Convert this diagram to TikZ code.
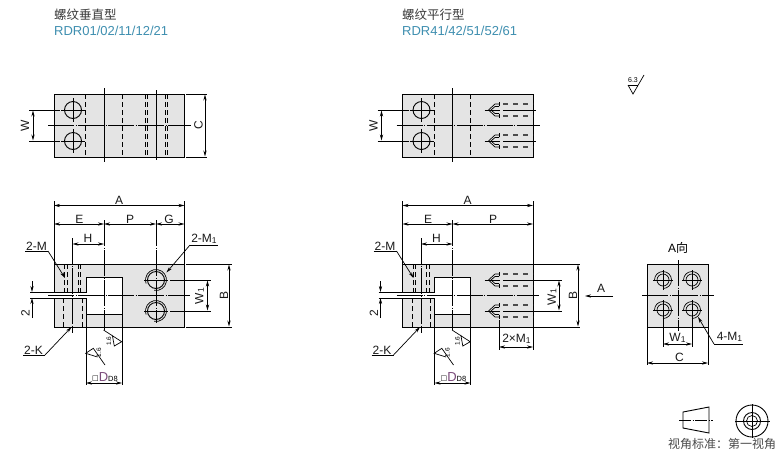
\documentclass[tikz,border=0pt]{standalone}
\usepackage{fontspec}
\setmainfont{Liberation Sans}
\newfontfamily\cjk{Noto Sans CJK SC}
\newfontfamily\djfont{DejaVu Sans}
\usetikzlibrary{arrows.meta}
\definecolor{partgray}{HTML}{E4E4E4}
\definecolor{titleblue}{HTML}{3F8FB0}
\definecolor{titlegray}{HTML}{3A3A3A}
\definecolor{dpurple}{HTML}{7A4A7A}
\tikzset{
  lbl/.style={inner sep=0pt,font=\fontsize{12}{13}\selectfont,text=black!90},
  titlecn/.style={inner sep=0pt,anchor=west,text=titlegray,font=\cjk\fontsize{12.5}{14}\selectfont},
  titlelat/.style={inner sep=0pt,anchor=west,text=titleblue,font=\fontsize{13}{14}\selectfont},
  outline/.style={draw=black,line width=0.9pt},
  thin line/.style={draw=black,line width=0.7pt},
  cline/.style={draw=black,line width=0.7pt,dash pattern=on 26pt off 1.5pt on 1pt off 1.5pt},
  hid/.style={draw=black,line width=0.7pt,dash pattern=on 5pt off 3pt},
  thrd/.style={draw=black!70,line width=2pt,dash pattern=on 5pt off 5pt},
  dim/.style={draw=black,line width=0.7pt,{Stealth[length=6pt,width=3.2pt]}-{Stealth[length=6pt,width=3.2pt]}},
  lead/.style={draw=black,line width=0.7pt,-{Stealth[length=6pt,width=3.2pt]}},
}
\newcommand{\lsub}[1]{\raisebox{-0.5pt}{\fontsize{8.5}{9}\selectfont #1}}
% horizontal threaded hole, blind, seen from the side, centred on y=#1
\newcommand{\threadh}[1]{%
  \draw[thin line] (499.5,#1-6) -- (495,#1-6) -- (488.5,#1) -- (495,#1+6) -- (499.5,#1+6);
  \draw[thin line] (499.5,#1-8) -- (499.5,#1-4) (499.5,#1+4) -- (499.5,#1+8);
  \draw[thin line] (499,#1-3.5) -- (495,#1-3.5) -- (491,#1) -- (495,#1+3.5) -- (499,#1+3.5);
  \draw[thrd] (503,#1-6.3) -- (533,#1-6.3);
  \draw[thrd] (503,#1+6.3) -- (533,#1+6.3);
  \draw[thin line] (484.5,#1) -- (500,#1) (503,#1) -- (536,#1);
}
% top view common part, x offset through scope
\newcommand{\topview}{%
  \fill[partgray] (54,94) rectangle (184.5,157);
  \draw[outline] (54,94) rectangle (184.5,157);
  \draw[outline] (73,110) circle (8.5) (73,141) circle (8.5);
  \draw[thin line] (73,98) -- (73,122) (73,129) -- (73,153);
  \draw[thin line] (61,110) -- (85,110) (61,141) -- (85,141);
  \draw[hid] (85.5,94) -- (85.5,157) (122,94) -- (122,157);
  \draw[outline] (104,88) -- (104,162);
  \draw[cline] (48,125) -- (191,125);
  \draw[thin line] (29,110) -- (60,110) (29,141) -- (60,141);
  \draw[dim] (33,110.5) -- (33,140.5);
  \node[lbl,rotate=90] at (25,125.5) {W};
}
% front view common part
\newcommand{\frontview}{%
  \draw[outline,fill=partgray] (54,292) -- (54,264) -- (184.5,264) -- (184.5,327) -- (54,327) -- (54,298) -- (86,298) -- (86,314) -- (122,314) -- (122,277) -- (86,277) -- (86,292) -- cycle;
  \draw[hid] (64.5,264) -- (64.5,292) (67,264) -- (67,292) (78,264) -- (78,292) (80.5,264) -- (80.5,292);
  \draw[hid] (63.5,298) -- (63.5,327) (82,298) -- (82,327);
  \draw[cline] (72.5,238) -- (72.5,333);
  \draw[cline] (104,220) -- (104,330);
  \draw[cline] (48,295) -- (190,295);
  % extension lines and dimensions
  \draw[thin line] (54,201) -- (54,264) (184.5,201) -- (184.5,264);
  \draw[dim] (54,205.5) -- (184.5,205.5);
  \draw[dim] (54,224) -- (104,224);
  \draw[dim] (72.5,244) -- (104,244);
  \node[lbl] at (119,200) {A};
  \node[lbl] at (79.5,219) {E};
  \node[lbl] at (88,238.5) {H};
  % slot dimension
  \draw[thin line] (30,292) -- (54,292) (30,298) -- (54,298);
  \draw[lead] (32,281) -- (32,292);
  \draw[lead] (32,318) -- (32,298);
  \node[lbl,rotate=90] at (25.5,313) {2};
  % leaders
  \draw[thin line] (25,251) -- (48,251);
  \draw[lead] (48,251) -- (65,278);
  \node[lbl] at (36.5,246) {2-M};
  \draw[thin line] (23,355) -- (45,355);
  \draw[lead] (45,355) -- (71.5,327);
  \node[lbl] at (33.5,350) {2-K};
  % width of the window
  \draw[thin line] (86,314) -- (86,385) (122,314) -- (122,385);
  \draw[dim] (86,383) -- (122,383);
  \node[inner sep=0pt] at (105,377) {\raisebox{0.5pt}{\djfont\fontsize{7}{8}\selectfont □}\textcolor{dpurple}{\fontsize{13}{14}\selectfont D}\fontsize{7.5}{8}\selectfont D8};
  % surface marks
  \draw[thin line] (103.5,330) -- (121.7,341.7) -- (114.3,346) -- (112.3,335);
  \node[inner sep=0pt,rotate=90,font=\fontsize{6.5}{7}\selectfont] at (109,341) {1.6};
  \draw[thin line] (97.5,357) -- (85.7,353.3) -- (93.3,348.3) -- (105,365);
  \node[inner sep=0pt,rotate=90,font=\fontsize{6.5}{7}\selectfont] at (98.8,352.5) {1.6};
}
\begin{document}
\begin{tikzpicture}[x=1pt,y=-1pt]
\useasboundingbox (0,0) rectangle (778,451);
\fill[white] (0,0) rectangle (778,451);
% titles
\node[titlecn] (t1) at (54,14.5) {螺纹垂直型};
\node[titlelat] (t2) at (54,30.5) {RDR01/02/11/12/21};
\node[titlecn] (t3) at (402,14.5) {螺纹平行型};
\node[titlelat] (t4) at (402,30.5) {RDR41/42/51/52/61};

% ---------- left: top view
\topview
\draw[hid] (145,94) -- (145,157) (147.5,94) -- (147.5,157) (165,94) -- (165,157) (167.5,94) -- (167.5,157);
\draw[outline] (156,90) -- (156,160);
\draw[thin line] (186,94) -- (207,94) (186,157) -- (207,157);
\draw[dim] (205,94.5) -- (205,156.5);
\node[lbl,rotate=90] at (198.5,125.5) {C};

% ---------- left: front view
\frontview
\draw[outline] (156,280) circle (8.5) (156,311) circle (8.5);
\draw[thin line] (156,280) ++(100:10.5) arc (100:-200:10.5);
\draw[thin line] (156,311) ++(100:10.5) arc (100:-200:10.5);
\draw[thin line] (144,280) -- (168,280) (144,311) -- (168,311);
\draw[cline] (156,220) -- (156,323);
\draw[thin line] (170,280) -- (211,280) (170,311) -- (211,311);
\draw[dim] (207.5,280.5) -- (207.5,310.5);
\node[lbl,rotate=90] at (199.5,296) {W\lsub{1}};
\draw[thin line] (186,264) -- (232,264) (186,327) -- (232,327);
\draw[dim] (229,264.5) -- (229,326.5);
\node[lbl,rotate=90] at (224,295) {B};
\draw[dim] (104,224) -- (156,224);
\draw[dim] (156,224) -- (184.5,224);
\node[lbl] at (130,219) {P};
\node[lbl] at (169,219) {G};
\draw[thin line] (190,245) -- (218,245);
\draw[lead] (190,245) -- (166.5,272.5);
\node[lbl] at (204,239) {2-M\lsub{1}};

% ---------- right: top view
\begin{scope}[xshift=348.5pt]
\topview
\end{scope}
\threadh{110}
\threadh{141}

% ---------- right: front view
\begin{scope}[xshift=348.5pt]
\frontview
\end{scope}
\threadh{280}
\threadh{311}
\draw[thin line] (536,280) -- (562,280) (536,311) -- (562,311);
\draw[dim] (559,280.5) -- (559,310.5);
\node[lbl,rotate=90] at (552,297) {W\lsub{1}};
\draw[thin line] (534,264) -- (580,264) (534,327) -- (580,327);
\draw[dim] (578,264.5) -- (578,326.5);
\node[lbl,rotate=90] at (573,295) {B};
\draw[dim] (452.5,224) -- (533,224);
\node[lbl] at (493,219) {P};
\draw[thin line] (499,320) -- (499,350) (533,327) -- (533,350);
\draw[dim] (499,347) -- (533,347);
\node[lbl] at (516.5,339) {2×M\lsub{1}};
\draw[lead] (613,296) -- (585,296);
\node[lbl] at (601,288) {A};

% ---------- surface symbol
\draw[thin line] (628,85) -- (638,85);
\draw[thin line] (628,85) -- (633,94) -- (644,75);
\node[inner sep=0pt,font=\fontsize{7}{8}\selectfont] at (633,80.5) {6.3};

% ---------- view A
\fill[partgray] (647,264) rectangle (708,327);
\draw[outline] (647,264) rectangle (708,327);
\foreach \hx/\hy in {663/280,692/280,663/310,692/310}{
  \draw[thin line] (\hx,\hy) circle (6);
  \draw[thin line] (\hx,\hy) ++(90:8.5) arc (90:-180:8.5);
  \draw[thin line] (\hx-10,\hy) -- (\hx+10,\hy) (\hx,\hy-10) -- (\hx,\hy+10);
}
\draw[cline] (642,295.5) -- (714,295.5);
\draw[cline] (678,260) -- (678,331);
\node[inner sep=0pt,font=\fontsize{12}{13}\selectfont] at (678,248) {A{\cjk 向}};
\draw[thin line] (663,312) -- (663,347) (692,312) -- (692,347);
\draw[dim] (663,344) -- (692,344);
\node[lbl] at (677.5,338) {W\lsub{1}};
\draw[thin line] (647,327) -- (647,365) (708,327) -- (708,365);
\draw[dim] (647,363) -- (708,363);
\node[lbl] at (679.5,357) {C};
\draw[thin line] (714,344) -- (743,344);
\draw[lead] (714,344) -- (698,317);
\node[lbl] at (729.5,337) {4-M\lsub{1}};

% ---------- projection symbol
\draw[outline] (683,412) -- (709,407) -- (709,433) -- (683,428) -- cycle;
\draw[thin line,dash pattern=on 12pt off 1.5pt on 1pt off 1.5pt] (679,420) -- (713,420);
\draw[outline] (752,421) circle (16) (752,421) circle (8.5);
\draw[thin line] (752,421) circle (5.5);
\draw[thin line] (735,421) -- (770,421) (752,404) -- (752,438);
\node[anchor=west,inner sep=0pt,text=black!70,font=\cjk\fontsize{12}{13}\selectfont] (prj) at (668,444) {视角标准：第一视角};
\end{tikzpicture}
\end{document}
